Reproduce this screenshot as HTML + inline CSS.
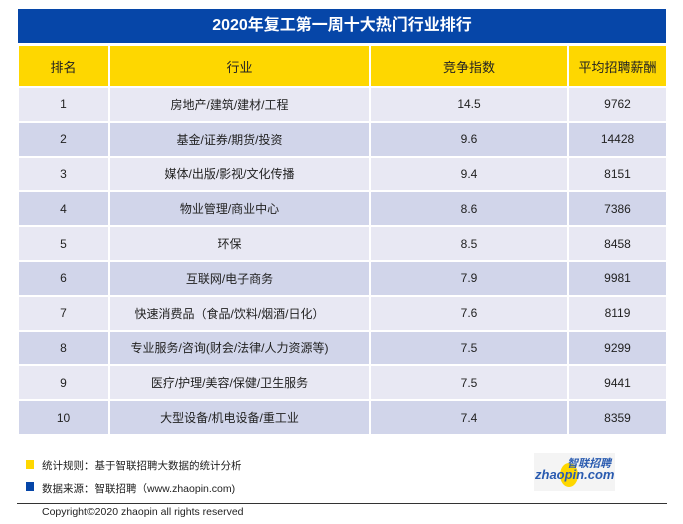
<!DOCTYPE html>
<html><head><meta charset="utf-8"><style>
body{margin:0;width:683px;height:524px;background:#fff;position:relative;font-family:"Liberation Sans","Noto Sans CJK SC",sans-serif;overflow:hidden}
.t{position:absolute;left:18px;top:9px;width:648px;height:34px;background:#0646a8;color:#fff;font-weight:bold;font-size:16px;text-align:center;line-height:34px}
table{position:absolute;left:17px;top:44px;border-collapse:separate;border-spacing:2px 2px;width:651px}
td{text-align:center;font-size:12px;color:#222;height:32.8px;padding:0}
tr.h td{background:#fed700;height:40px;font-size:13px}
tr.a td{background:#e8e8f3}
tr.b td{background:#d1d5ea}
td.c{padding-right:20px}
.f{position:absolute;font-size:10.5px;color:#222}
.sq{position:absolute;width:8px;height:9px}
</style></head><body>
<div class="t">2020年复工第一周十大热门行业排行</div>
<table>
<tr class="h"><td style="width:89px">排名</td><td style="width:259px">行业</td><td style="width:196px">竞争指数</td><td>平均招聘薪酬</td></tr>
<tr class="a"><td>1</td><td class="c">房地产/建筑/建材/工程</td><td>14.5</td><td>9762</td></tr>
<tr class="b"><td>2</td><td class="c">基金/证券/期货/投资</td><td>9.6</td><td>14428</td></tr>
<tr class="a"><td>3</td><td class="c">媒体/出版/影视/文化传播</td><td>9.4</td><td>8151</td></tr>
<tr class="b"><td>4</td><td class="c">物业管理/商业中心</td><td>8.6</td><td>7386</td></tr>
<tr class="a"><td>5</td><td class="c">环保</td><td>8.5</td><td>8458</td></tr>
<tr class="b"><td>6</td><td class="c">互联网/电子商务</td><td>7.9</td><td>9981</td></tr>
<tr class="a"><td>7</td><td class="c">快速消费品（食品/饮料/烟酒/日化）</td><td>7.6</td><td>8119</td></tr>
<tr class="b"><td>8</td><td class="c">专业服务/咨询(财会/法律/人力资源等)</td><td>7.5</td><td>9299</td></tr>
<tr class="a"><td>9</td><td class="c">医疗/护理/美容/保健/卫生服务</td><td>7.5</td><td>9441</td></tr>
<tr class="b"><td>10</td><td class="c">大型设备/机电设备/重工业</td><td>7.4</td><td>8359</td></tr>
</table>
<div class="sq" style="left:26px;top:460px;background:#fed700"></div>
<div class="f" style="left:42px;top:458px">统计规则：基于智联招聘大数据的统计分析</div>
<div class="sq" style="left:26px;top:482px;background:#0646a8"></div>
<div class="f" style="left:42px;top:481px">数据来源：智联招聘（www.zhaopin.com)</div>
<div style="position:absolute;left:17px;top:503px;width:650px;height:1px;background:#333"></div>
<div class="f" style="left:42px;top:506px">Copyright©2020 zhaopin all rights reserved</div>
<div style="position:absolute;left:534px;top:453px;width:81px;height:38px;background:#f4f4f4">
<div style="position:absolute;left:26px;top:10px;width:18px;height:24px;border-radius:50%;background:#fed700"></div>
<div style="position:absolute;left:33px;top:2px;font-size:11px;font-weight:bold;font-style:italic;color:#2a5bb0">智联招聘</div>
<div style="position:absolute;left:1px;top:14px;font-size:13px;font-weight:bold;font-style:italic;color:#2a5bb0">zhaopin.com</div>
</div>
</body></html>
